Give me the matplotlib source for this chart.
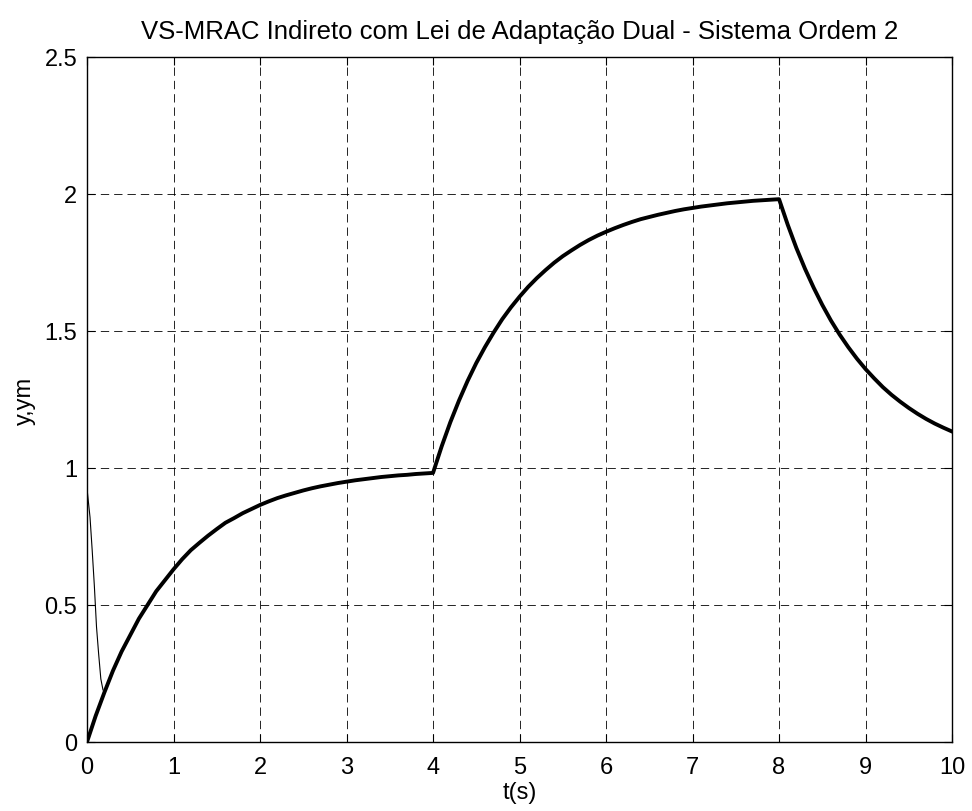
import numpy as np
import matplotlib.pyplot as plt

plt.rcParams['font.family'] = ['Liberation Sans', 'DejaVu Sans']

# reference model output ym, every 0.1 s
t_ref = np.round(np.arange(0, 10.01, 0.1), 2)
ym = [0.0, 0.095, 0.18, 0.26, 0.33, 0.39, 0.45, 0.50, 0.55, 0.59,
      0.63, 0.667, 0.70, 0.727, 0.753, 0.777, 0.80, 0.817, 0.835, 0.85,
      0.865, 0.878, 0.89, 0.90, 0.909, 0.918, 0.926, 0.933, 0.939, 0.945,
      0.95, 0.955, 0.959, 0.963, 0.967, 0.97, 0.973, 0.975, 0.978, 0.98,
      0.982, 1.079, 1.167, 1.246, 1.318, 1.383, 1.441, 1.494, 1.543, 1.586,
      1.625, 1.661, 1.693, 1.722, 1.749, 1.773, 1.794, 1.814, 1.832, 1.848,
      1.862, 1.875, 1.887, 1.898, 1.908, 1.916, 1.924, 1.931, 1.938, 1.944,
      1.949, 1.954, 1.958, 1.962, 1.966, 1.969, 1.972, 1.975, 1.977, 1.979,
      1.981, 1.888, 1.803, 1.727, 1.658, 1.595, 1.538, 1.487, 1.441, 1.399,
      1.361, 1.327, 1.295, 1.267, 1.242, 1.219, 1.198, 1.179, 1.162, 1.147,
      1.133]

# plant output y, initial transient before it joins ym
t_y = [0.0, 0.005, 0.035, 0.06, 0.085, 0.11, 0.135, 0.16, 0.185]
y = [0.0, 0.91, 0.82, 0.70, 0.57, 0.42, 0.32, 0.23, 0.19]

fig = plt.figure(figsize=(9.72, 8.12), dpi=100)
ax = fig.add_axes([0.0895, 0.085, 0.89, 0.8436])

ax.plot(t_ref, ym, color='black', lw=2.8, solid_joinstyle='round')
ax.plot(t_y, y, color='black', lw=0.8)

ax.set_xlim(0, 10)
ax.set_ylim(0, 2.5)
ax.set_xticks(range(0, 11))
ax.set_yticks([0, 0.5, 1, 1.5, 2, 2.5])
ax.set_yticklabels(['0', '0.5', '1', '1.5', '2', '2.5'])
ax.grid(True, color='black', linestyle=(0, (10, 6)), linewidth=0.6)
ax.tick_params(direction='in', top=True, right=True, labelsize=17, length=6)
ax.tick_params(axis='x', pad=10)
ax.tick_params(axis='y', pad=7)
for s in ax.spines.values():
    s.set_linewidth(1.0)

ax.set_title('VS-MRAC Indireto com Lei de Adaptação Dual - Sistema Ordem 2',
             fontsize=18.5, pad=14)
ax.set_xlabel('t(s)', fontsize=17, labelpad=2)
ax.set_ylabel('y,ym', fontsize=17, labelpad=6)

fig.savefig('out.png', dpi=100)
